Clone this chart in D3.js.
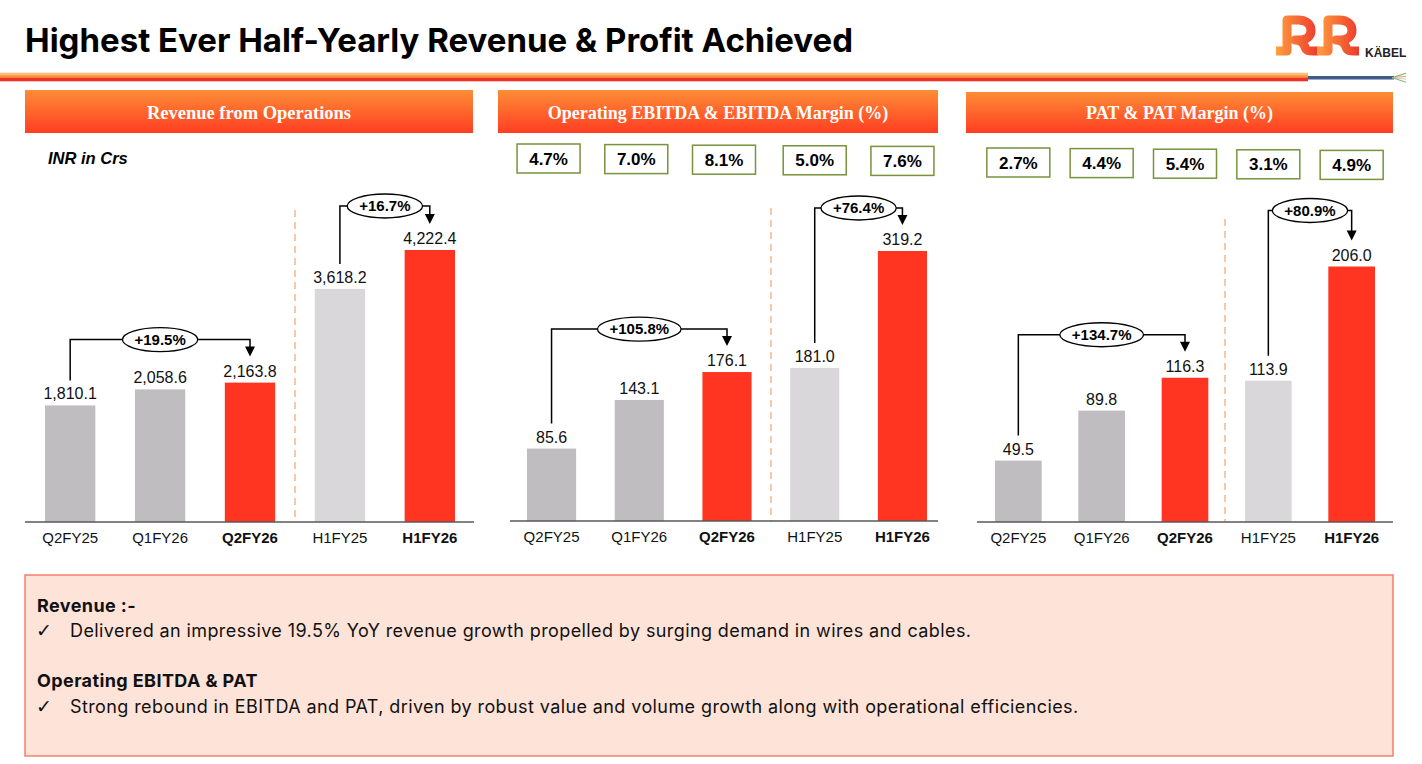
<!DOCTYPE html>
<html>
<head>
<meta charset="utf-8">
<script src="https://cdn.jsdelivr.net/npm/d3@7"></script>
<style>
  body { margin: 0; background: #fff; }
  svg { display: block; }
</style>
</head>
<body>
<svg id="chart" width="1422" height="764"></svg>
<script>
// ---- data ----
const categories = ["Q2FY25", "Q1FY26", "Q2FY26", "H1FY25", "H1FY26"];
const boldCategories = ["Q2FY26", "H1FY26"];
const revenue = [1810.1, 2058.6, 2163.8, 3618.2, 4222.4];
const ebitda = [85.6, 143.1, 176.1, 181.0, 319.2];
const pat = [49.5, 89.8, 116.3, 113.9, 206.0];
const ebitdaMargin = ["4.7%", "7.0%", "8.1%", "5.0%", "7.6%"];
const patMargin = ["2.7%", "4.4%", "5.4%", "3.1%", "4.9%"];
const revenueGrowth = ["+19.5%", "+16.7%"];
const ebitdaGrowth = ["+105.8%", "+76.4%"];
const patGrowth = ["+134.7%", "+80.9%"];
const growthPairs = [[0, 2], [3, 4]];
const headers = ["Revenue from Operations", "Operating EBITDA & EBITDA Margin (%)", "PAT & PAT Margin (%)"];
const title = "Highest Ever Half-Yearly Revenue & Profit Achieved";
const notes = [
  {head: "Revenue :-", line: "Delivered an impressive 19.5% YoY revenue growth propelled by surging demand in wires and cables."},
  {head: "Operating EBITDA & PAT", line: "Strong rebound in EBITDA and PAT, driven by robust value and volume growth along with operational efficiencies."}
];

const barColor = {Q2FY25: "#bfbdc0", Q1FY26: "#bfbdc0", Q2FY26: "#ff3522", H1FY25: "#d9d7da", H1FY26: "#ff3522"};
const fmt = d3.format(",.1f");
const sans = "'Liberation Sans', Arial, sans-serif";
const body = "Inter, 'Noto Sans', sans-serif";

// layout of the three panels
const panels = [
  {title: headers[0], values: revenue, margins: null, growth: revenueGrowth,
   hx: [25, 473], hy: 90, axis: [25, 474], bars: [45, 455], base: 522, top: 250, sep: [295, 210], lifts: [43, 44]},
  {title: headers[1], values: ebitda, margins: ebitdaMargin, growth: ebitdaGrowth,
   hx: [498, 938], hy: 90, axis: [510, 938], bars: [527, 927], base: 521, top: 251, sep: [771, 208], boxY: 144, boxShift: -3, lifts: [43, 43]},
  {title: headers[2], values: pat, margins: patMargin, growth: patGrowth,
   hx: [966, 1393], hy: 92, axis: [977, 1393], bars: [995, 1375], base: 522, top: 266.5, sep: [1225, 219], boxY: 148, boxShift: 0, lifts: [43, 56]}
];

const svg = d3.select("#chart");
const defs = svg.append("defs");

const hg = defs.append("linearGradient").attr("id", "hdr").attr("x1", 0).attr("y1", 0).attr("x2", 0).attr("y2", 1);
hg.append("stop").attr("offset", "0%").attr("stop-color", "#fd8d36");
hg.append("stop").attr("offset", "100%").attr("stop-color", "#ff3e22");

const lg = defs.append("linearGradient").attr("id", "logo").attr("x1", 0).attr("y1", 0).attr("x2", 1).attr("y2", 0);
lg.append("stop").attr("offset", "0%").attr("stop-color", "#ff9f3e");
lg.append("stop").attr("offset", "100%").attr("stop-color", "#ee3a2c");

// ---- title ----
svg.append("text")
  .attr("x", 25).attr("y", 52)
  .style("font-family", body)
  .style("font-weight", 700).style("font-size", "33px")
  .attr("fill", "#000")
  .text(title);

// stripe + cable
svg.append("rect").attr("x", 0).attr("y", 72.7).attr("width", 1308).attr("height", 2.5).attr("fill", "#fbbd80");
svg.append("rect").attr("x", 0).attr("y", 75.2).attr("width", 1308).attr("height", 2.3).attr("fill", "#f7931e");
svg.append("rect").attr("x", 0).attr("y", 77.5).attr("width", 1308).attr("height", 3.8).attr("fill", "#ee3124");
svg.append("rect").attr("x", 1308).attr("y", 76).attr("width", 86).attr("height", 3.5).attr("fill", "#3f5d88");
[["#6aa56a", -2.5], ["#f39c4a", -0.8], ["#c9c9c9", 0.8], ["#7fb07f", 2.5]].forEach(([c, dy]) => {
  svg.append("line").attr("x1", 1392).attr("y1", 77.7).attr("x2", 1406).attr("y2", 77.7 + dy * 1.8)
    .attr("stroke", c).attr("stroke-width", 1);
});

// logo
const rPath = "M0 36 H11 V5 H22 C31 5 35 10 35 15.5 C35 21 31 25 23 25 H19 C26 25 28 29 29 32 C30 36 33 36 37 36 H42";
[1276, 1317].forEach(ox => {
  svg.append("path").attr("d", rPath).attr("transform", `translate(${ox},15)`)
    .attr("fill", "none").attr("stroke", "url(#logo)").attr("stroke-width", 9)
    .attr("stroke-linejoin", "round");
});
svg.append("text").attr("x", 1365).attr("y", 56.5)
  .style("font-family", sans).style("font-weight", 700).style("font-size", "12px")
  .attr("fill", "#222").text("KÄBEL");

// ---- panels ----
panels.forEach((p, pi) => {
  const g = svg.append("g");

  // header
  g.append("rect").attr("x", p.hx[0]).attr("y", p.hy).attr("width", p.hx[1] - p.hx[0]).attr("height", 133 - p.hy)
    .attr("fill", "url(#hdr)");
  g.append("text").attr("x", (p.hx[0] + p.hx[1]) / 2).attr("y", 119)
    .attr("text-anchor", "middle")
    .style("font-family", "'Liberation Serif', 'DejaVu Serif', serif")
    .style("font-weight", 700).style("font-size", pi === 0 ? "18.5px" : "18px")
    .attr("fill", "#fff").text(p.title);

  const x = d3.scaleBand().domain(categories).range(p.bars).paddingInner(0.44).paddingOuter(0);
  const y = d3.scaleLinear().domain([0, d3.max(p.values)]).range([p.base, p.top]);
  const cx = c => x(c) + x.bandwidth() / 2;

  if (pi === 0) {
    g.append("text").attr("x", 48).attr("y", 164)
      .style("font-family", sans).style("font-weight", 700).style("font-style", "italic").style("font-size", "16.5px")
      .text("INR in Crs");
  }

  // margin boxes
  if (p.margins) {
    const mb = g.selectAll("g.mb").data(p.margins).join("g").attr("class", "mb")
      .attr("transform", (d, i) => `translate(${cx(categories[i]) + (i < 3 ? p.boxShift : 0)},${p.boxY + i * 0.6})`);
    mb.append("rect").attr("x", -31.5).attr("y", 0).attr("width", 63).attr("height", 29)
      .attr("fill", "#fff").attr("stroke", "#77933c").attr("stroke-width", 1.5);
    mb.append("text").attr("x", 0).attr("y", 20.5).attr("text-anchor", "middle")
      .style("font-family", sans).style("font-weight", 700).style("font-size", "17px")
      .text(d => d);
  }

  // separator
  g.append("line").attr("x1", p.sep[0]).attr("x2", p.sep[0]).attr("y1", p.sep[1]).attr("y2", p.base)
    .attr("stroke", "#f9c8a9").attr("stroke-width", 2).attr("stroke-dasharray", "7,5");

  // bars
  g.selectAll("rect.bar").data(p.values).join("rect").attr("class", "bar")
    .attr("x", (d, i) => x(categories[i]))
    .attr("y", d => y(d))
    .attr("width", x.bandwidth())
    .attr("height", d => p.base - y(d))
    .attr("fill", (d, i) => barColor[categories[i]]);

  // value labels
  g.selectAll("text.val").data(p.values).join("text").attr("class", "val")
    .attr("x", (d, i) => cx(categories[i]))
    .attr("y", d => y(d) - 6)
    .attr("text-anchor", "middle")
    .style("font-family", sans).style("font-size", "16px").attr("fill", "#111")
    .text(d => fmt(d));

  // axis
  const axis = d3.axisBottom(x).tickSize(0).tickPadding(10);
  const ax = g.append("g").attr("transform", `translate(0,${p.base})`).call(axis);
  ax.select(".domain").remove();
  ax.selectAll("text")
    .style("font-family", sans).style("font-size", "15px").attr("fill", "#111")
    .style("font-weight", d => boldCategories.includes(d) ? 700 : 400);
  g.append("line").attr("x1", p.axis[0]).attr("x2", p.axis[1]).attr("y1", p.base).attr("y2", p.base)
    .attr("stroke", "#595959").attr("stroke-width", 1.5);

  // growth brackets
  growthPairs.forEach(([a, b], k) => {
    const xa = cx(categories[a]), xb = cx(categories[b]);
    const hi = d3.min(p.values.slice(a, b + 1), v => y(v));
    const level = hi - p.lifts[k];
    const startY = y(p.values[a]) - 25;
    const tipY = y(p.values[b]) - 26;
    g.append("path")
      .attr("d", `M${xa},${startY} V${level} H${xb} V${tipY - 9}`)
      .attr("fill", "none").attr("stroke", "#000").attr("stroke-width", 1.5);
    g.append("path")
      .attr("d", `M${xb - 5},${tipY - 10} L${xb + 5},${tipY - 10} L${xb},${tipY} Z`)
      .attr("fill", "#000");
    const lbl = g.append("text").attr("x", (xa + xb) / 2).attr("y", level + 5.3)
      .attr("text-anchor", "middle")
      .style("font-family", sans).style("font-weight", 700).style("font-size", "15px")
      .text(p.growth[k]);
    const w = lbl.node().getComputedTextLength();
    g.insert("ellipse", () => lbl.node())
      .attr("cx", (xa + xb) / 2).attr("cy", level)
      .attr("rx", w / 2 + 12).attr("ry", 12)
      .attr("fill", "#fff").attr("stroke", "#000").attr("stroke-width", 1.3);
  });
});

// ---- notes box ----
svg.append("rect").attr("x", 25).attr("y", 575).attr("width", 1368).attr("height", 181)
  .attr("fill", "#fde3d8").attr("stroke", "#f4806c").attr("stroke-width", 1.5);
const noteY = [[611.7, 637.3], [686.7, 712.7]];
notes.forEach((n, i) => {
  svg.append("text").attr("x", 37).attr("y", noteY[i][0])
    .style("font-family", body).style("font-weight", 700).style("font-size", "18px")
    .style("letter-spacing", "0.4px")
    .attr("fill", "#111").text(n.head);
  svg.append("text").attr("x", 36).attr("y", noteY[i][1])
    .style("font-family", "'DejaVu Sans', sans-serif").style("font-size", "19px")
    .attr("fill", "#111").text("\u2713");
  svg.append("text").attr("x", 70).attr("y", noteY[i][1])
    .style("font-family", body).style("font-size", "18px")
    .style("letter-spacing", "0.4px")
    .attr("fill", "#111").text(n.line);
});
</script>
</body>
</html>
